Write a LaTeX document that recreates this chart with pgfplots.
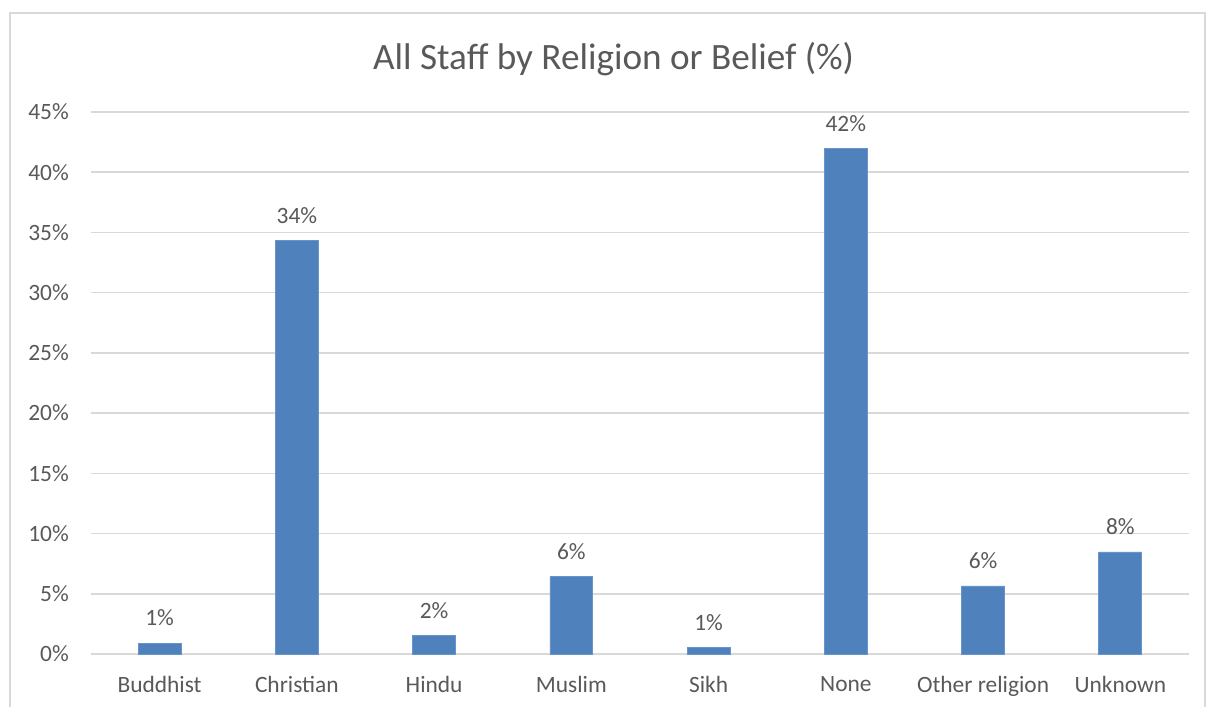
\documentclass[border=0pt]{standalone}
\usepackage{pgfplots}
\pgfplotsset{compat=1.18}
\usepackage{fontspec}
\setmainfont{Carlito}
\definecolor{barblue}{HTML}{4F81BD}
\definecolor{txtgray}{HTML}{595959}
\definecolor{gridgray}{HTML}{D9D9D9}
\begin{document}
\begin{tikzpicture}[x=1pt,y=1pt]
\useasboundingbox (0,0) rectangle (463.85,271.92);
\draw[gridgray,line width=0.6pt] (3.85,-5) -- (3.85,266.9) -- (463.5,266.9) -- (463.5,-5);
\node[anchor=base,font=\fontsize{14.3}{16}\selectfont,text=txtgray,inner sep=0pt] at (236,245.2) {All Staff by Religion or Belief (\%)};
\begin{axis}[
  at={(35pt,20.38pt)}, anchor=south west,
  scale only axis, width=422.3pt, height=208.46pt,
  ybar, bar width=16.5pt,
  xmin=-0.5, xmax=7.5, ymin=0, ymax=45,
  xtick={0,...,7},
  xticklabels={Buddhist,Christian,Hindu,Muslim,Sikh,None,Other religion,Unknown},
  ytick={0,5,...,45},
  yticklabel={\pgfmathprintnumber{\tick}\%},
  /pgf/number format/assume math mode=true,
  axis line style={draw=none},
  axis x line*=bottom,
  major tick length=0pt,
  ymajorgrids, grid style={gridgray,line width=0.6pt},
  extra y ticks={0}, extra y tick labels={},
  extra y tick style={grid style={gridgray,line width=0.6pt}},
  tick label style={font=\fontsize{9}{10}\selectfont,text=txtgray},
  yticklabel style={xshift=-5pt},
  xticklabel style={yshift=-5pt},
  nodes near coords={\pgfmathprintnumber[fixed,precision=0]{\pgfplotspointmeta}\%},
  nodes near coords style={font=\fontsize{9}{10}\selectfont,text=txtgray,yshift=3pt},
  clip=false,
]
\addplot[fill=barblue,draw=barblue!85!white,line width=0.3pt] coordinates {
  (0,0.91) (1,34.3) (2,1.52) (3,6.42) (4,0.52) (5,42.0) (6,5.65) (7,8.47)
};
\end{axis}
\end{tikzpicture}
\end{document}
